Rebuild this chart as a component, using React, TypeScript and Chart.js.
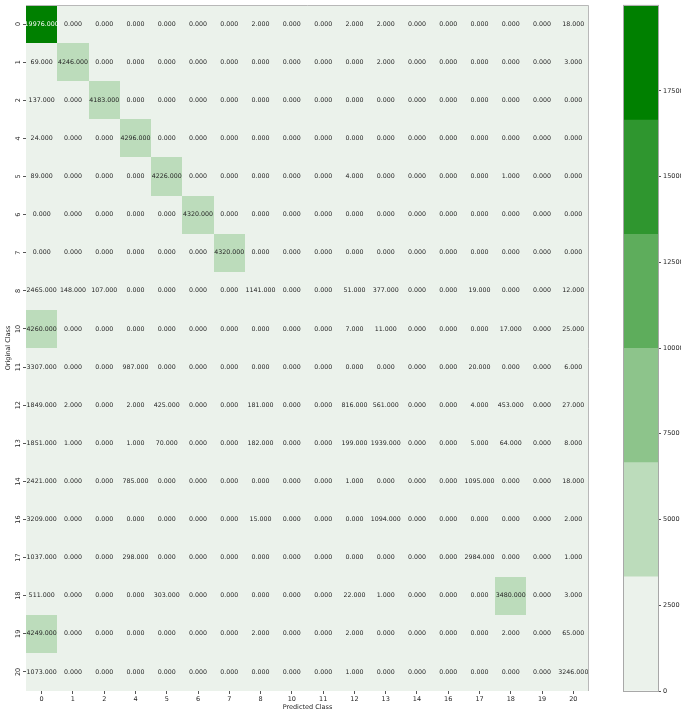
import React, { useEffect, useRef } from 'react';
import { Chart, registerables } from 'chart.js';

Chart.register(...registerables);

// ---- data ----
const classLabels = ['0', '1', '2', '4', '5', '6', '7', '8', '10', '11', '12', '13', '14', '16', '17', '18', '19', '20'];

const row0 = [19976, 0, 0, 0, 0, 0, 0, 2, 0, 0, 2, 2, 0, 0, 0, 0, 0, 18];
const row1 = [69, 4246, 0, 0, 0, 0, 0, 0, 0, 0, 0, 2, 0, 0, 0, 0, 0, 3];
const row2 = [137, 0, 4183, 0, 0, 0, 0, 0, 0, 0, 0, 0, 0, 0, 0, 0, 0, 0];
const row4 = [24, 0, 0, 4296, 0, 0, 0, 0, 0, 0, 0, 0, 0, 0, 0, 0, 0, 0];
const row5 = [89, 0, 0, 0, 4226, 0, 0, 0, 0, 0, 4, 0, 0, 0, 0, 1, 0, 0];
const row6 = [0, 0, 0, 0, 0, 4320, 0, 0, 0, 0, 0, 0, 0, 0, 0, 0, 0, 0];
const row7 = [0, 0, 0, 0, 0, 0, 4320, 0, 0, 0, 0, 0, 0, 0, 0, 0, 0, 0];
const row8 = [2465, 148, 107, 0, 0, 0, 0, 1141, 0, 0, 51, 377, 0, 0, 19, 0, 0, 12];
const row10 = [4260, 0, 0, 0, 0, 0, 0, 0, 0, 0, 7, 11, 0, 0, 0, 17, 0, 25];
const row11 = [3307, 0, 0, 987, 0, 0, 0, 0, 0, 0, 0, 0, 0, 0, 20, 0, 0, 6];
const row12 = [1849, 2, 0, 2, 425, 0, 0, 181, 0, 0, 816, 561, 0, 0, 4, 453, 0, 27];
const row13 = [1851, 1, 0, 1, 70, 0, 0, 182, 0, 0, 199, 1939, 0, 0, 5, 64, 0, 8];
const row14 = [2421, 0, 0, 785, 0, 0, 0, 0, 0, 0, 1, 0, 0, 0, 1095, 0, 0, 18];
const row16 = [3209, 0, 0, 0, 0, 0, 0, 15, 0, 0, 0, 1094, 0, 0, 0, 0, 0, 2];
const row17 = [1037, 0, 0, 298, 0, 0, 0, 0, 0, 0, 0, 0, 0, 0, 2984, 0, 0, 1];
const row18 = [511, 0, 0, 0, 303, 0, 0, 0, 0, 0, 22, 1, 0, 0, 0, 3480, 0, 3];
const row19 = [4249, 0, 0, 0, 0, 0, 0, 2, 0, 0, 2, 0, 0, 0, 0, 2, 0, 65];
const row20 = [1073, 0, 0, 0, 0, 0, 0, 0, 0, 0, 1, 0, 0, 0, 0, 0, 0, 3246];

const matrix = [row0, row1, row2, row4, row5, row6, row7, row8, row10, row11, row12, row13, row14, row16, row17, row18, row19, row20];

const binColors = ['#ebf2eb', '#bcdcbb', '#8dc48b', '#5ead5c', '#2f962f', '#008000'];
const colorbarTicks = [0, 2500, 5000, 7500, 10000, 12500, 15000, 17500];

const xTitle = 'Predicted Class';
const yTitle = 'Original Class';

const vmax = Math.max(...matrix.map((r) => Math.max(...r)));
const nBins = binColors.length;
const binIndex = (v: number) => Math.min(nBins - 1, Math.floor((v / vmax) * nBins));

const FONT = 'DejaVu Sans';
const TEXT = '#262626';

const heatmapPlugin = {
  id: 'heatmapCells',
  beforeDatasetsDraw(chart: any) {
    const { ctx, scales } = chart;
    const x = scales.x;
    const y = scales.y;
    const bw = x.getPixelForValue(1) - x.getPixelForValue(0);
    const bh = y.getPixelForValue(1) - y.getPixelForValue(0);
    ctx.save();
    matrix.forEach((row, r) => {
      row.forEach((v, c) => {
        const cx = x.getPixelForValue(c);
        const cy = y.getPixelForValue(r);
        const l = Math.round(cx - bw / 2);
        const rr = Math.round(cx + bw / 2);
        const t = Math.round(cy - bh / 2);
        const b = Math.round(cy + bh / 2);
        ctx.fillStyle = binColors[binIndex(v)];
        ctx.fillRect(l, t, rr - l, b - t);
      });
    });
    ctx.font = `6.3px "${FONT}"`;
    ctx.textAlign = 'center';
    ctx.textBaseline = 'middle';
    matrix.forEach((row, r) => {
      row.forEach((v, c) => {
        const cx = x.getPixelForValue(c);
        const cy = y.getPixelForValue(r);
        ctx.fillStyle = binIndex(v) >= 3 ? '#ffffff' : TEXT;
        ctx.fillText(v.toFixed(3), cx, cy);
      });
    });
    // spines (top and right)
    const a = chart.chartArea;
    ctx.strokeStyle = '#b8b8b8';
    ctx.lineWidth = 1;
    ctx.beginPath();
    ctx.moveTo(a.left, a.top + 0.5);
    ctx.lineTo(a.right - 0.5, a.top + 0.5);
    ctx.lineTo(a.right - 0.5, a.bottom);
    ctx.stroke();
    ctx.restore();
  },
};

const outlinePlugin = {
  id: 'cbOutline',
  afterDatasetsDraw(chart: any) {
    const { ctx, chartArea: a } = chart;
    ctx.save();
    ctx.strokeStyle = '#a8a8a8';
    ctx.lineWidth = 1;
    ctx.strokeRect(a.left - 0.5, a.top - 0.5, a.right - a.left + 1, a.bottom - a.top + 1);
    ctx.restore();
  },
};

export default function App() {
  const heatRef = useRef<HTMLCanvasElement | null>(null);
  const cbRef = useRef<HTMLCanvasElement | null>(null);

  useEffect(() => {
    const tickFont = { family: FONT, size: 6.5 };
    const heat = new Chart(heatRef.current as HTMLCanvasElement, {
      type: 'scatter',
      data: {
        datasets: [
          {
            data: matrix.flatMap((row, r) => row.map((_, c) => ({ x: classLabels[c], y: classLabels[r] }))) as any,
            pointRadius: 0,
            pointHoverRadius: 0,
          },
        ],
      },
      options: {
        responsive: false,
        animation: false,
        devicePixelRatio: 1,
        layout: { padding: { left: 0, top: 5, right: 11, bottom: 0 } },
        plugins: { legend: { display: false }, tooltip: { enabled: false } },
        events: [],
        scales: {
          x: {
            type: 'category',
            labels: classLabels,
            offset: true,
            position: 'bottom',
            grid: { display: true, drawOnChartArea: false, drawTicks: true, tickLength: 3, color: '#555555', offset: false },
            border: { display: false },
            ticks: { font: tickFont, color: TEXT, padding: 1, autoSkip: false, minRotation: 0, maxRotation: 0 },
            title: { display: true, text: xTitle, font: tickFont, color: TEXT, padding: { top: 0, bottom: 2 } },
            afterFit: (s: any) => {
              s.height = 22;
            },
          },
          y: {
            type: 'category',
            labels: classLabels,
            offset: true,
            position: 'left',
            grid: { display: true, drawOnChartArea: false, drawTicks: true, tickLength: 3, color: '#555555', offset: false },
            border: { display: false },
            ticks: { font: tickFont, color: TEXT, padding: 1, autoSkip: false, minRotation: 90, maxRotation: 90, crossAlign: 'center' },
            title: { display: true, text: yTitle, font: tickFont, color: TEXT, padding: { top: 4, bottom: 0 } },
            afterFit: (s: any) => {
              s.width = 26;
            },
          },
        },
      } as any,
      plugins: [heatmapPlugin],
    });

    const bounds = binColors.map((_, i) => [(vmax * i) / nBins, (vmax * (i + 1)) / nBins]);
    const cb = new Chart(cbRef.current as HTMLCanvasElement, {
      type: 'bar',
      data: {
        labels: ['cb'],
        datasets: binColors.map((col, i) => ({
          data: [bounds[i]] as any,
          backgroundColor: col,
          borderWidth: 0,
          barPercentage: 1,
          categoryPercentage: 1,
          grouped: false,
        })),
      },
      options: {
        responsive: false,
        animation: false,
        devicePixelRatio: 1,
        events: [],
        layout: { padding: { left: 24, top: 5, right: 0, bottom: 22 } },
        plugins: { legend: { display: false }, tooltip: { enabled: false } },
        scales: {
          x: { display: false },
          y: {
            type: 'linear',
            position: 'right',
            min: 0,
            max: vmax,
            grid: { display: true, drawOnChartArea: false, drawTicks: true, tickLength: 3, color: '#555555' },
            border: { display: false },
            ticks: { font: tickFont, color: TEXT, padding: 2, callback: (v: any) => String(v) },
            afterBuildTicks: (s: any) => {
              s.ticks = colorbarTicks.map((v) => ({ value: v }));
            },
            afterFit: (s: any) => {
              s.width = 23;
            },
          },
        },
      } as any,
      plugins: [outlinePlugin],
    });

    return () => {
      heat.destroy();
      cb.destroy();
    };
  }, []);

  return (
    <div style={{ position: 'absolute', left: 0, top: 0, width: 681, height: 713, background: '#ffffff', overflow: 'hidden' }}>
      <canvas ref={heatRef} width={600} height={713} style={{ position: 'absolute', left: 0, top: 0 }} />
      <canvas ref={cbRef} width={81} height={713} style={{ position: 'absolute', left: 600, top: 0 }} />
    </div>
  );
}
